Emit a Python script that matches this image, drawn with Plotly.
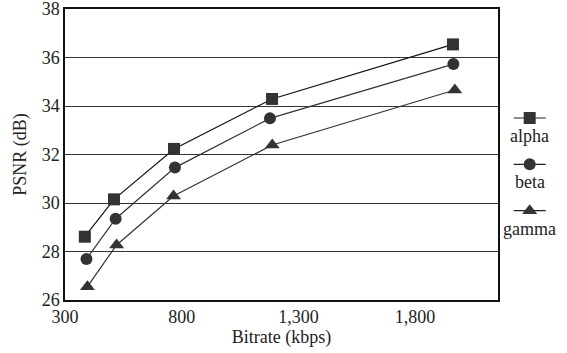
import plotly.graph_objects as go

# Data
series_names = ["alpha", "beta", "gamma"]
alpha_x = [385, 510, 767, 1187, 1962]
alpha_y = [28.61, 30.15, 32.23, 34.29, 36.54]
beta_x = [392, 517, 771, 1178, 1964]
beta_y = [27.69, 29.35, 31.46, 33.49, 35.73]
gamma_x = [396, 521, 765, 1188, 1970]
gamma_y = [26.55, 28.27, 30.29, 32.39, 34.66]
x_ticks = [300, 800, 1300, 1800]
x_ticktext = ["300", "800", "1,300", "1,800"]
y_ticks = [26, 28, 30, 32, 34, 36, 38]

symbols = ["square", "circle", "triangle-up"]
sizes = [12, 12, 13]
line_colors = ["#111111", "#333333", "#333333"]
marker_color = "#333333"
FONT = "'Liberation Serif', 'DejaVu Serif', serif"
FS = 18

fig = go.Figure()
for name, xs, ys, sym, sz, lc in zip(series_names,
                                     [alpha_x, beta_x, gamma_x],
                                     [alpha_y, beta_y, gamma_y],
                                     symbols, sizes, line_colors):
    fig.add_trace(go.Scatter(
        x=xs, y=ys, name=name, mode="lines+markers",
        line=dict(color=lc, width=1.2),
        marker=dict(symbol=sym, size=sz, color=marker_color),
        showlegend=False,
    ))

# Custom stacked legend (symbol with line through it, label underneath)
for k, (name, sym, sz) in enumerate(zip(series_names, symbols, sizes)):
    fig.add_trace(go.Scatter(
        x=[-1, 0, 1], y=[k, k, k], mode="lines",
        line=dict(color="#222222", width=1.2),
        xaxis="x2", yaxis="y2", showlegend=False, hoverinfo="skip",
    ))
    fig.add_trace(go.Scatter(
        x=[0], y=[k], mode="markers",
        marker=dict(symbol=sym, size=sz, color=marker_color),
        xaxis="x2", yaxis="y2", showlegend=False, hoverinfo="skip",
    ))
    fig.add_annotation(
        x=0, y=k, xref="x2", yref="y2", text=name, showarrow=False,
        yshift=-18, font=dict(family=FONT, size=FS, color="#222222"),
    )

fig.update_layout(
    width=567, height=353,
    margin=dict(l=65, r=5, t=9, b=53, autoexpand=False),
    paper_bgcolor="white", plot_bgcolor="white",
    font=dict(family=FONT, size=FS, color="#222222"),
    xaxis=dict(
        domain=[0, 0.8712], automargin=False,
        range=[300, 2155], tickvals=x_ticks, ticktext=x_ticktext,
        showgrid=False, zeroline=False,
        showline=True, linecolor="#111111", linewidth=1.5, mirror=True,
        ticks="", ticklen=0, ticklabelstandoff=0,
        title=dict(text="Bitrate (kbps)", standoff=3,
                   font=dict(family=FONT, size=FS)),
        tickfont=dict(family=FONT, size=FS),
    ),
    yaxis=dict(
        range=[26, 38], tickvals=y_ticks, automargin=False,
        showgrid=True, gridcolor="#333333", gridwidth=1.2,
        zeroline=False,
        showline=True, linecolor="#111111", linewidth=1.5, mirror=True,
        ticks="", ticklen=0, ticklabeloverflow="allow",
        title=dict(text="PSNR (dB)", standoff=10,
                   font=dict(family=FONT, size=FS)),
        tickfont=dict(family=FONT, size=FS),
    ),
    xaxis2=dict(domain=[0.885, 0.985], range=[-1.55, 1.55], visible=False,
                anchor="y2", fixedrange=True),
    yaxis2=dict(domain=[0, 1], range=[3.927, -2.352], visible=False,
                anchor="x2", fixedrange=True),
)

fig.write_html("out.html")
